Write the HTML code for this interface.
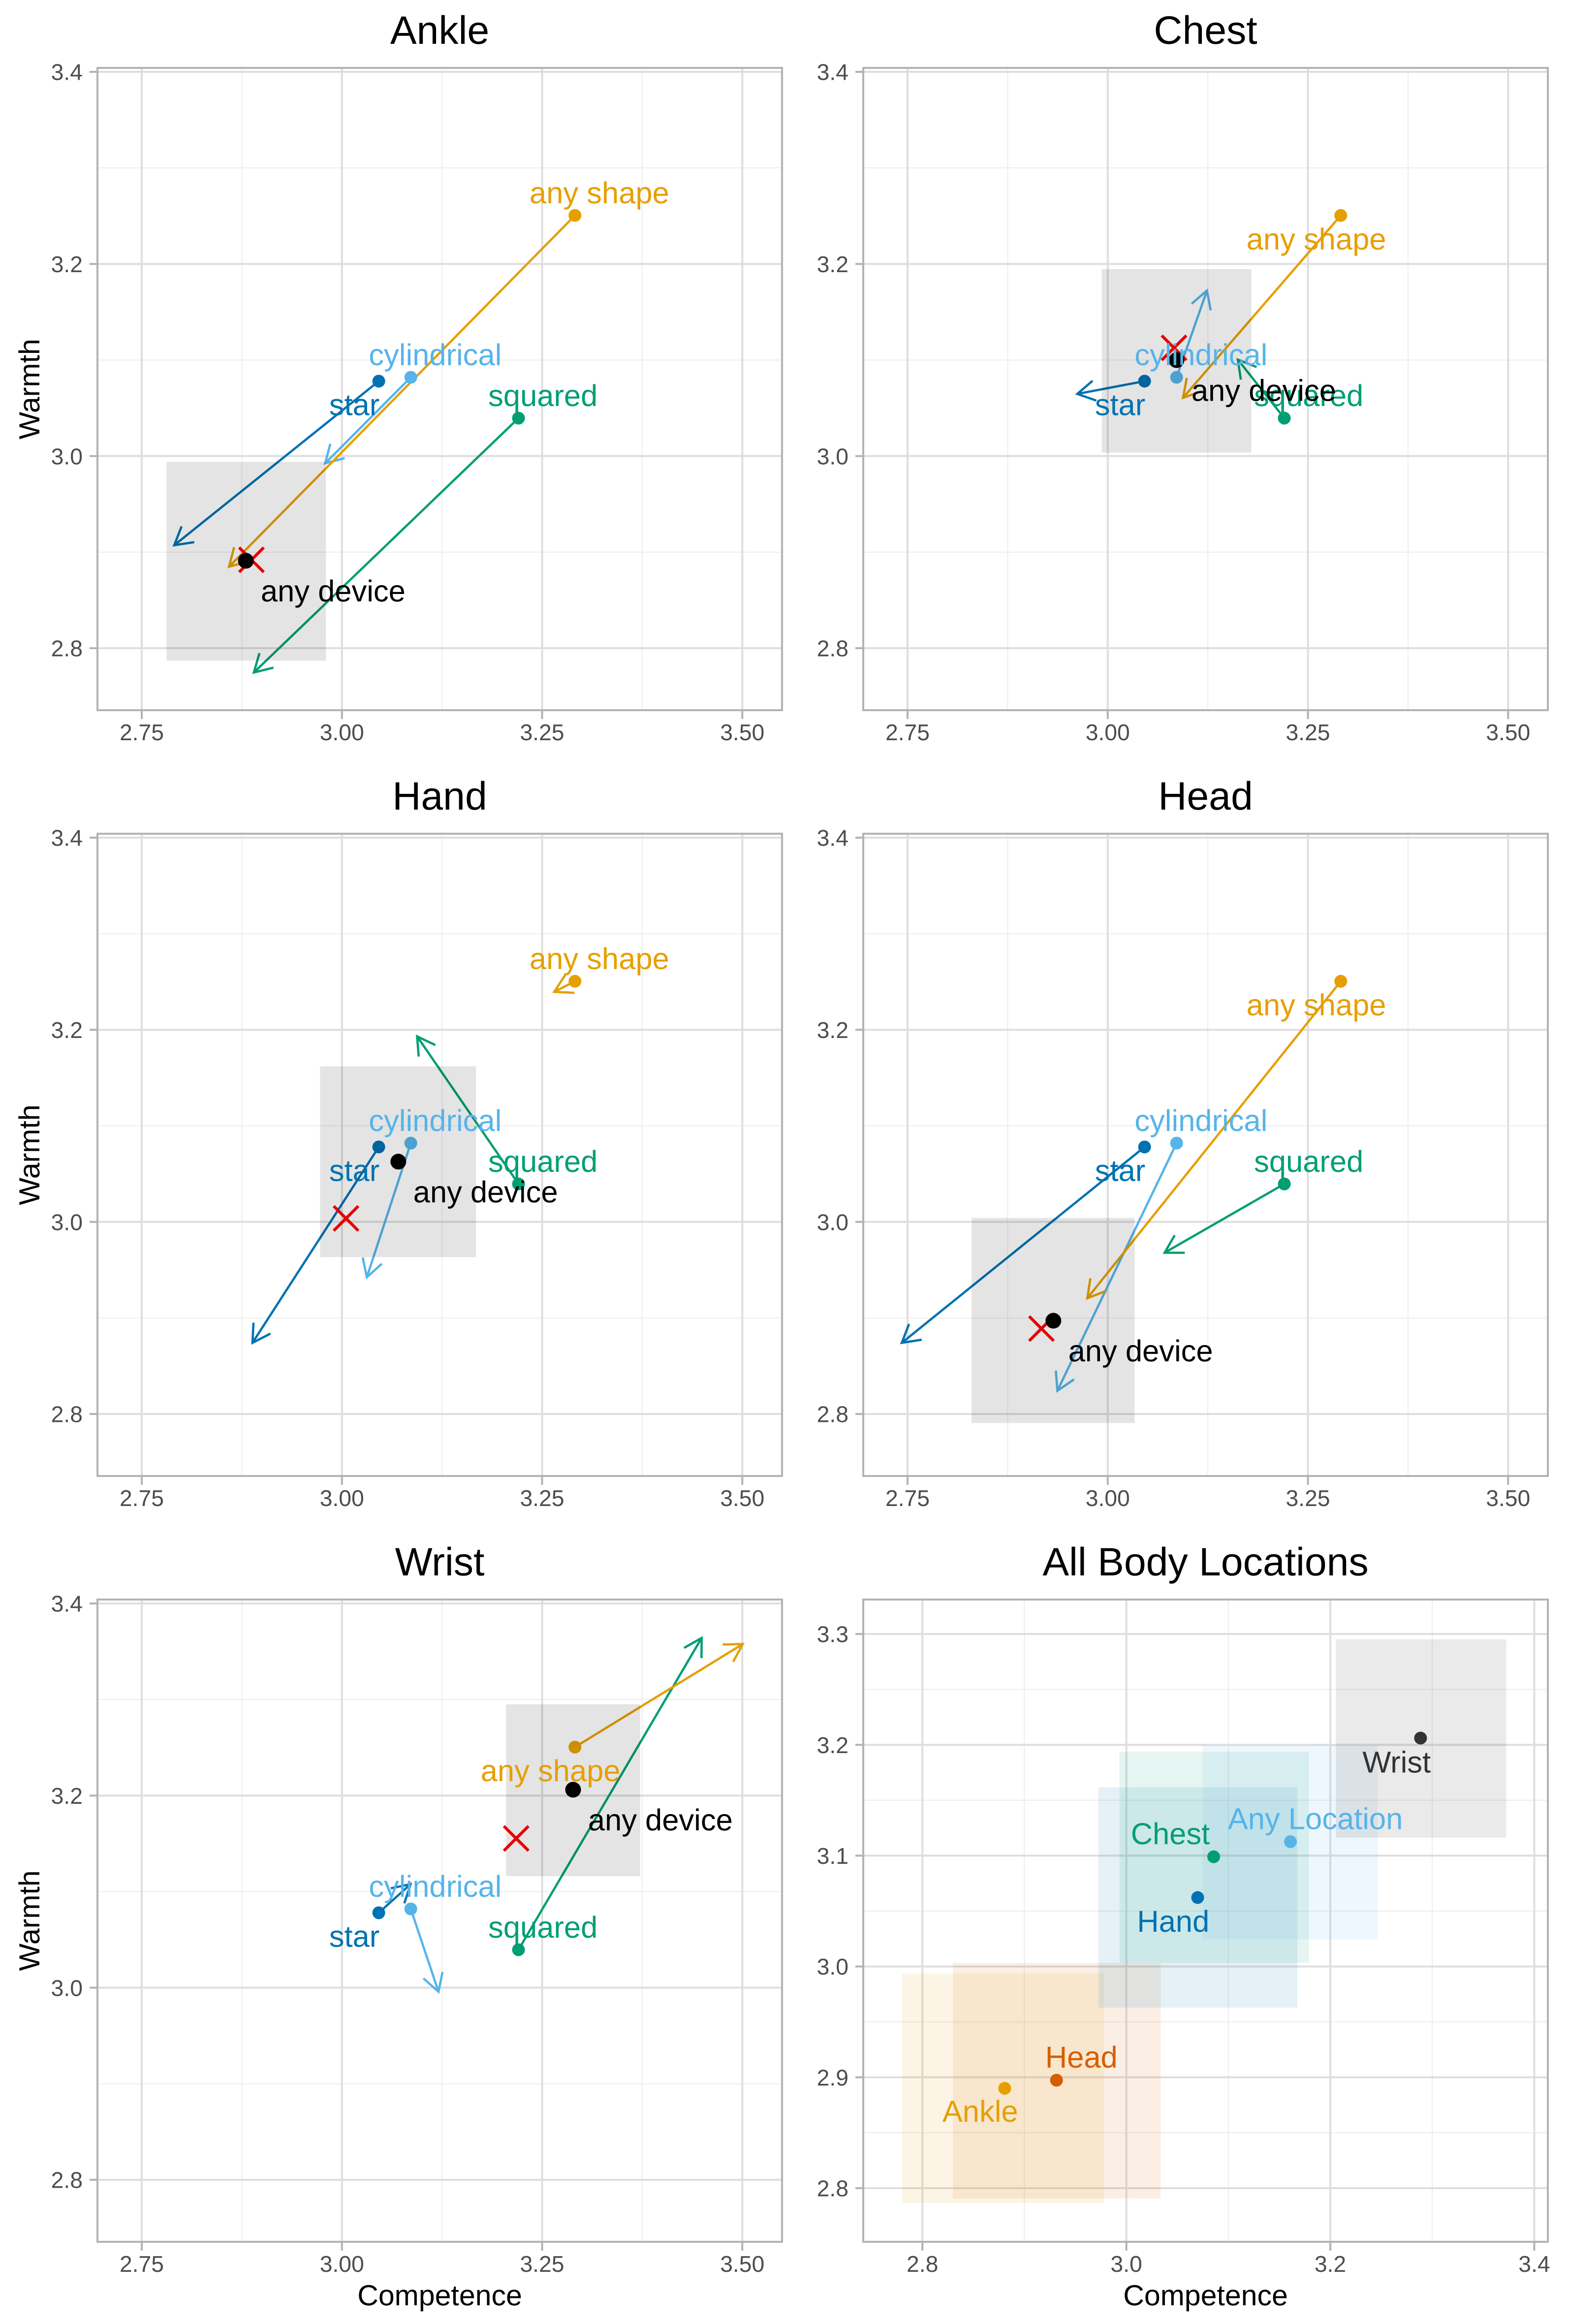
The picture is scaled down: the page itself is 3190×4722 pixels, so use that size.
<!DOCTYPE html>
<html lang="en">
<head>
<meta charset="utf-8">
<title>Warmth and Competence by Body Location</title>
<style>
html,body{margin:0;padding:0;background:#fff;}
#figure{display:block;width:3190px;height:4722px;background:#fff;}
text{font-family:"Liberation Sans",Arial,sans-serif;text-rendering:geometricPrecision;}
</style>
</head>
<body>
<svg id="figure" xmlns="http://www.w3.org/2000/svg" width="3190" height="4722" viewBox="0 0 3190 4722"></svg>
<script>
// ---------- chart values ----------
const panelTitles = ['Ankle', 'Chest', 'Hand', 'Head', 'Wrist'];
const xTickLabels = ['2.75', '3.00', '3.25', '3.50'];
const xMinorTicks = [2.875, 3.125, 3.375];
const yTickLabels = ['3.4', '3.2', '3.0', '2.8'];
const yMinorTicks = [3.3, 3.1, 2.9];

const shapeNames = ['star', 'cylindrical', 'squared', 'any shape'];
const shapeCompetence = [3.046, 3.086, 3.2205, 3.291];
const shapeWarmth = [3.078, 3.082, 3.0395, 3.2505];

const ankleArrowCompetence = [2.7906, 2.979, 2.890, 2.859];
const ankleArrowWarmth = [2.9072, 2.9924, 2.7747, 2.8848];
const chestArrowCompetence = [2.962, 3.1239, 3.1625, 3.094];
const chestArrowWarmth = [3.0647, 3.1723, 3.1004, 3.0607];
const handArrowCompetence = [2.8883, 3.0311, 3.0939, 3.2652];
const handArrowWarmth = [2.8741, 2.9424, 3.1931, 3.2395];
const headArrowCompetence = [2.7428, 2.9371, 3.071, 2.9745];
const headArrowWarmth = [2.8741, 2.8242, 2.9679, 2.9205];
const wristArrowCompetence = [3.0857, 3.1206, 3.4492, 3.5006];
const wristArrowWarmth = [3.1078, 2.9958, 3.3641, 3.3578];

const deviceCompetence = [2.880, 3.0859, 3.0704, 2.9321, 3.2887];
const deviceWarmth = [2.891, 3.0999, 3.0627, 2.8971, 3.2061];
const crossCompetence = [2.887, 3.0828, 3.0051, 2.9172, 3.2176];
const crossWarmth = [2.892, 3.1127, 3.0036, 2.8889, 3.1554];

const ciCompetenceLow = [2.781, 2.9925, 2.9727, 2.83, 3.205];
const ciCompetenceHigh = [2.980, 3.1793, 3.1675, 3.0336, 3.3725];
const ciWarmthLow = [2.787, 3.0036, 2.9633, 2.7906, 3.1161];
const ciWarmthHigh = [2.994, 3.1947, 3.162, 3.0041, 3.295];

// label nudge direction for: star, cylindrical, squared, any shape (data-unit nudge signs)
const ankleNudgeX = [-1, 1, 1, 1];
const ankleNudgeY = [-1, 1, 1, 1];
const chestNudgeX = [-1, 1, 1, -1];
const chestNudgeY = [-1, 1, 1, -1];
const handNudgeX = [-1, 1, 1, 1];
const handNudgeY = [-1, 1, 1, 1];
const headNudgeX = [-1, 1, 1, -1];
const headNudgeY = [-1, 1, 1, -1];
const wristNudgeX = [-1, 1, 1, -1];
const wristNudgeY = [-1, 1, 1, -1];

const summaryNames = ['Ankle', 'Head', 'Hand', 'Chest', 'Any Location', 'Wrist'];
const summaryCompetence = [2.8807, 2.9315, 3.0699, 3.0856, 3.1609, 3.2885];
const summaryWarmth = [2.8901, 2.8974, 3.0622, 3.099, 3.1126, 3.2061];
const summaryCompetenceLow = [2.780, 2.8298, 2.9726, 2.9932, 3.0748, 3.2054];
const summaryCompetenceHigh = [2.978, 3.0337, 3.1677, 3.179, 3.2465, 3.3726];
const summaryWarmthLow = [2.7866, 2.7907, 2.9628, 3.0032, 3.0245, 3.1162];
const summaryWarmthHigh = [2.9936, 3.0032, 3.1616, 3.1938, 3.1997, 3.2951];
const summaryLabelNudgeX = [-0.024, 0.0244, -0.024, -0.0425, 0.0244, -0.0235];
const summaryLabelNudgeY = [-0.0204, 0.0213, -0.0209, 0.0213, 0.0213, -0.0213];
const summaryXTickLabels = ['2.8', '3.0', '3.2', '3.4'];
const summaryXMinorTicks = [2.9, 3.1, 3.3];
const summaryYTickLabels = ['3.3', '3.2', '3.1', '3.0', '2.9', '2.8'];
const summaryYMinorTicks = [3.25, 3.15, 3.05, 2.95, 2.85];

const arrowCompetenceByPanel = [ankleArrowCompetence, chestArrowCompetence, handArrowCompetence, headArrowCompetence, wristArrowCompetence];
const arrowWarmthByPanel = [ankleArrowWarmth, chestArrowWarmth, handArrowWarmth, headArrowWarmth, wristArrowWarmth];
const nudgeXByPanel = [ankleNudgeX, chestNudgeX, handNudgeX, headNudgeX, wristNudgeX];
const nudgeYByPanel = [ankleNudgeY, chestNudgeY, handNudgeY, headNudgeY, wristNudgeY];

// ---------- styling and layout ----------
const shapeColors = ['#0072B2', '#56B4E9', '#009E73', '#E69F00'];
const summaryColors = ['#E69F00', '#D55E00', '#0072B2', '#009E73', '#56B4E9', '#333333'];
const PANEL_W = 1391, PANEL_H = 1305;
const COL_LEFT = [198, 1754];
const ROW_TOP = [138, 1694, 3250];
const LABEL_SIZE = 61.5, TICK_SIZE = 46.3, TITLE_SIZE = 80.5, AXIS_TITLE_SIZE = 59;
const NUDGE_X = 0.0305, NUDGE_Y = 0.024;
const DEVICE_NUDGE_X = 0.109, DEVICE_NUDGE_Y = -0.031;

const svg = document.getElementById('figure');
const NS = 'http://www.w3.org/2000/svg';

function make(tag, parent, props, content) {
  const node = document.createElementNS(NS, tag);
  for (const k in props) node.setAttribute(k, props[k]);
  if (content !== undefined) node.textContent = content;
  parent.appendChild(node);
  return node;
}
function slug(s) { return String(s).toLowerCase().replace(/[^a-z0-9]+/g, '-'); }

function drawFrame(group, left, top, sx, sy, xTicks, xMinor, yTicks, yMinor, hasYTitle, hasXTitle, title) {
  const right = left + PANEL_W, bottom = top + PANEL_H;
  // white panel background
  const bg = make('rect', group, { x: left, y: top, width: PANEL_W, height: PANEL_H, fill: '#ffffff' });
  
  
  xMinor.forEach(v => {
    const el = make('line', group, { x1: sx(v), x2: sx(v), y1: top, y2: bottom, stroke: '#ededed', 'stroke-width': 2 });
    
    
  });
  yMinor.forEach(v => {
    const el = make('line', group, { x1: left, x2: right, y1: sy(v), y2: sy(v), stroke: '#ededed', 'stroke-width': 2 });
    
    
  });
  xTicks.forEach(t => {
    const x = sx(parseFloat(t));
    const grid = make('line', group, { x1: x, x2: x, y1: top, y2: bottom, stroke: '#dedede', 'stroke-width': 4 });
    
    
    const tick = make('line', group, { x1: x, x2: x, y1: bottom, y2: bottom + 18, stroke: '#b3b3b3', 'stroke-width': 4 });
    
    
    const label = make('text', group, { x: x, y: bottom + 61, 'text-anchor': 'middle', 'font-size': TICK_SIZE, fill: '#4d4d4d' }, t);
    
    
  });
  yTicks.forEach(t => {
    const y = sy(parseFloat(t));
    const grid = make('line', group, { x1: left, x2: right, y1: y, y2: y, stroke: '#dedede', 'stroke-width': 4 });
    
    
    const tick = make('line', group, { x1: left - 16, x2: left, y1: y, y2: y, stroke: '#b3b3b3', 'stroke-width': 4 });
    
    
    const label = make('text', group, { x: left - 30, y: y + 16.6, 'text-anchor': 'end', 'font-size': TICK_SIZE, fill: '#4d4d4d' }, t);
    
    
  });
  const titleEl = make('text', group, { x: left + PANEL_W / 2, y: top - 49, 'text-anchor': 'middle', 'font-size': TITLE_SIZE, fill: '#000' }, title);
  
  
  if (hasYTitle) {
    const yt = make('text', group, { transform: 'translate(80 ' + (top + PANEL_H / 2) + ') rotate(-90)', 'text-anchor': 'middle', 'font-size': AXIS_TITLE_SIZE, fill: '#000' }, 'Warmth');
    
    
  }
  if (hasXTitle) {
    const xt = make('text', group, { x: left + PANEL_W / 2, y: bottom + 129, 'text-anchor': 'middle', 'font-size': AXIS_TITLE_SIZE, fill: '#000' }, 'Competence');
    
    
  }
}

function drawBorder(group, left, top) {
  const border = make('rect', group, { x: left, y: top, width: PANEL_W, height: PANEL_H, fill: 'none', stroke: '#b3b3b3', 'stroke-width': 4 });
  
  
}

function drawArrow(group, x1, y1, x2, y2, color, name) {
  const ang = Math.atan2(y1 - y2, x1 - x2);
  const len = 41, spread = Math.PI / 6;
  const ax = x2 + len * Math.cos(ang + spread), ay = y2 + len * Math.sin(ang + spread);
  const bx = x2 + len * Math.cos(ang - spread), by = y2 + len * Math.sin(ang - spread);
  const d = 'M' + x1 + ' ' + y1 + 'L' + x2 + ' ' + y2 + 'M' + ax + ' ' + ay + 'L' + x2 + ' ' + y2 + 'L' + bx + ' ' + by;
  const el = make('path', group, { d: d, fill: 'none', stroke: color, 'stroke-width': 4.6, 'stroke-linejoin': 'miter' });
  
  
}

function drawLabel(group, x, y, text, color, name) {
  const el = make('text', group, { x: x, y: y + 22.2, 'text-anchor': 'middle', 'font-size': LABEL_SIZE, fill: color }, text);
  
  
}

// ---------- five device panels ----------
panelTitles.forEach((title, p) => {
  const col = p % 2, row = Math.floor(p / 2);
  const left = COL_LEFT[col], top = ROW_TOP[row];
  const sx = v => left + 90 + (v - 2.75) * 1627;
  const sy = v => top + 8 + (3.4 - v) * 1951.7;
  const group = make('g', svg, {});
  
  

  drawFrame(group, left, top, sx, sy, xTickLabels, xMinorTicks, yTickLabels, yMinorTicks, col === 0, row === 2, title);

  shapeNames.forEach((name, i) => {
    drawArrow(group, sx(shapeCompetence[i]), sy(shapeWarmth[i]), sx(arrowCompetenceByPanel[p][i]), sy(arrowWarmthByPanel[p][i]), shapeColors[i], 'arrow-' + slug(name));
  });
  shapeNames.forEach((name, i) => {
    const dot = make('circle', group, { cx: sx(shapeCompetence[i]), cy: sy(shapeWarmth[i]), r: 13, fill: shapeColors[i] });
    
    
  });

  const x0 = sx(ciCompetenceLow[p]), x1 = sx(ciCompetenceHigh[p]), y0 = sy(ciWarmthHigh[p]), y1 = sy(ciWarmthLow[p]);
  const ci = make('rect', group, { x: x0, y: y0, width: x1 - x0, height: y1 - y0, fill: '#000000', 'fill-opacity': 0.105 });
  
  

  const cx = sx(crossCompetence[p]), cy = sy(crossWarmth[p]);
  const cross = make('path', group, { d: 'M' + (cx - 25) + ' ' + (cy - 25) + 'L' + (cx + 25) + ' ' + (cy + 25) + 'M' + (cx - 25) + ' ' + (cy + 25) + 'L' + (cx + 25) + ' ' + (cy - 25), stroke: '#e60000', 'stroke-width': 6, fill: 'none' });
  
  

  const dev = make('circle', group, { cx: sx(deviceCompetence[p]), cy: sy(deviceWarmth[p]), r: 16, fill: '#000' });
  
  

  shapeNames.forEach((name, i) => {
    const lx = sx(shapeCompetence[i] + nudgeXByPanel[p][i] * NUDGE_X);
    const ly = sy(shapeWarmth[i] + nudgeYByPanel[p][i] * NUDGE_Y);
    drawLabel(group, lx, ly, name, shapeColors[i], 'label-' + slug(name));
  });
  drawLabel(group, sx(deviceCompetence[p] + DEVICE_NUDGE_X), sy(deviceWarmth[p] + DEVICE_NUDGE_Y), 'any device', '#000', 'label-any-device');

  drawBorder(group, left, top);
});

// ---------- summary panel ----------
(function () {
  const left = COL_LEFT[1], top = ROW_TOP[2];
  const sx = v => left + 120.2 + (v - 2.8) * 2072;
  const sy = v => top + 70 + (3.3 - v) * 2252;
  const group = make('g', svg, {});
  
  

  drawFrame(group, left, top, sx, sy, summaryXTickLabels, summaryXMinorTicks, summaryYTickLabels, summaryYMinorTicks, false, true, 'All Body Locations');

  summaryNames.forEach((name, i) => {
    const x0 = sx(summaryCompetenceLow[i]), x1 = sx(summaryCompetenceHigh[i]), y0 = sy(summaryWarmthHigh[i]), y1 = sy(summaryWarmthLow[i]);
    const r = make('rect', group, { x: x0, y: y0, width: x1 - x0, height: y1 - y0, fill: summaryColors[i], 'fill-opacity': 0.1 });
    
    
  });
  summaryNames.forEach((name, i) => {
    const dot = make('circle', group, { cx: sx(summaryCompetence[i]), cy: sy(summaryWarmth[i]), r: 13, fill: summaryColors[i] });
    
    
  });
  summaryNames.forEach((name, i) => {
    drawLabel(group, sx(summaryCompetence[i] + summaryLabelNudgeX[i]), sy(summaryWarmth[i] + summaryLabelNudgeY[i]), name, summaryColors[i], 'label-' + slug(name));
  });
  drawBorder(group, left, top);
})();
</script>
</body>
</html>
